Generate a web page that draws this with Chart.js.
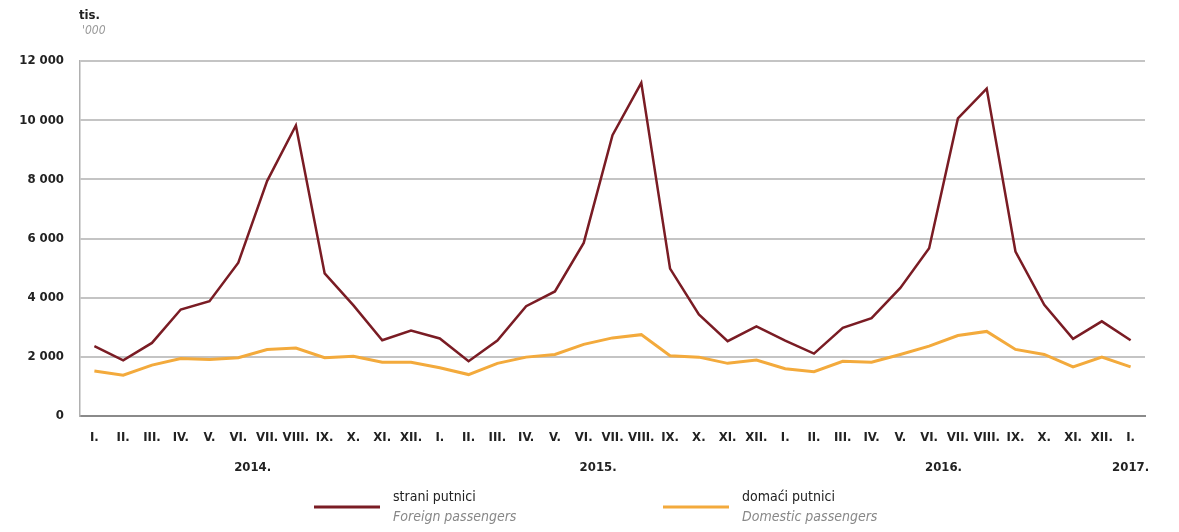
<!DOCTYPE html>
<html>
<head>
<meta charset="utf-8">
<script src="https://cdn.jsdelivr.net/npm/chart.js@4"></script>
<style>
  html, body { margin: 0; padding: 0; background: #fff; }
  canvas { display: block; }
</style>
</head>
<body>
<canvas id="c" width="1179" height="532"></canvas>
<script>
// ---- data ----
const months = ['I.','II.','III.','IV.','V.','VI.','VII.','VIII.','IX.','X.','XI.','XII.',
                'I.','II.','III.','IV.','V.','VI.','VII.','VIII.','IX.','X.','XI.','XII.',
                'I.','II.','III.','IV.','V.','VI.','VII.','VIII.','IX.','X.','XI.','XII.',
                'I.'];
const foreignPassengers = [2360, 1880, 2470, 3600, 3880, 5180, 7940, 9820, 4820, 3740, 2560, 2890,
                           2620, 1850, 2550, 3710, 4210, 5850, 9490, 11260, 4980, 3430, 2530, 3030,
                           2550, 2110, 2980, 3310, 4330, 5670, 10060, 11070, 5560, 3760, 2610, 3200,
                           2560];
const domesticPassengers = [1520, 1380, 1720, 1940, 1910, 1970, 2250, 2300, 1970, 2020, 1820, 1820,
                            1630, 1400, 1780, 1990, 2080, 2420, 2640, 2750, 2040, 1990, 1780, 1890,
                            1600, 1500, 1850, 1820, 2080, 2360, 2720, 2860, 2250, 2080, 1660, 1990,
                            1660];
const yearLabels = ['2014.', '2015.', '2016.', '2017.'];
const yearAnchors = [5.5, 17.5, 29.5, 36];
const seriesNames = ['strani putnici', 'domaći putnici'];
const seriesNamesEn = ['Foreign passengers', 'Domestic passengers'];
const unitLabel = 'tis.';
const unitLabelEn = "'000";

const RED = '#7a1c24';
const ORANGE = '#f3aa3c';
const FONT = "'DejaVu Sans Condensed', 'Liberation Sans Narrow', sans-serif";

const extras = {
  id: 'extras',
  afterDraw(chart) {
    const ctx = chart.ctx;
    const xs = chart.scales.x;
    ctx.save();
    // unit label
    ctx.fillStyle = '#222';
    ctx.font = 'bold 13px ' + FONT;
    ctx.textAlign = 'left';
    ctx.textBaseline = 'middle';
    ctx.fillText(unitLabel, 79, 16);
    ctx.fillStyle = '#999';
    ctx.font = 'italic 12px ' + FONT;
    ctx.fillText(unitLabelEn, 82, 31);
    // year labels
    ctx.fillStyle = '#222';
    ctx.font = 'bold 13px ' + FONT;
    ctx.textAlign = 'center';
    yearLabels.forEach((t, i) => {
      ctx.fillText(t, xs.getPixelForValue(yearAnchors[i]), 468);
    });
    // legend
    const items = [
      { color: RED, x0: 314, x1: 380, tx: 393 },
      { color: ORANGE, x0: 663, x1: 729, tx: 742 }
    ];
    items.forEach((it, i) => {
      ctx.strokeStyle = it.color;
      ctx.lineWidth = 3;
      ctx.beginPath();
      ctx.moveTo(it.x0, 507);
      ctx.lineTo(it.x1, 507);
      ctx.stroke();
      ctx.textAlign = 'left';
      ctx.fillStyle = '#222';
      ctx.font = '14px ' + FONT;
      ctx.fillText(seriesNames[i], it.tx, 497);
      ctx.fillStyle = '#888';
      ctx.font = 'italic 14px ' + FONT;
      ctx.fillText(seriesNamesEn[i], it.tx, 517);
    });
    ctx.restore();
  }
};

new Chart(document.getElementById('c'), {
  type: 'line',
  data: {
    labels: months,
    datasets: [
      { label: seriesNames[0], data: foreignPassengers, borderColor: RED, backgroundColor: RED,
        borderWidth: 2.5, pointRadius: 0, tension: 0 },
      { label: seriesNames[1], data: domesticPassengers, borderColor: ORANGE, backgroundColor: ORANGE,
        borderWidth: 3, pointRadius: 0, tension: 0 }
    ]
  },
  options: {
    responsive: false,
    animation: false,
    devicePixelRatio: 1,
    layout: { padding: { top: 61, right: 34, left: 0, bottom: 0 } },
    plugins: { legend: { display: false }, tooltip: { enabled: false } },
    scales: {
      x: {
        offset: true,
        grid: { display: false, drawTicks: false },
        border: { color: '#8a8a8a', width: 2 },
        ticks: {
          color: '#222', padding: 14, maxRotation: 0, autoSkip: false,
          font: { family: FONT, size: 13, weight: 'bold' }
        },
        afterFit(s) { s.height = 116; }
      },
      y: {
        min: 0, max: 12000,
        ticks: {
          stepSize: 2000, color: '#222', padding: 16,
          font: { family: FONT, size: 13, weight: 'bold' },
          callback: v => v >= 1000 ? Math.floor(v / 1000) + ' ' + String(v % 1000).padStart(3, '0') : String(v)
        },
        grid: { color: '#c4c4c4', lineWidth: 2, drawTicks: false },
        border: { color: '#b0b0b0', width: 1.5 },
        afterFit(s) { s.width = 80; }
      }
    }
  },
  plugins: [extras]
});
</script>
</body>
</html>
